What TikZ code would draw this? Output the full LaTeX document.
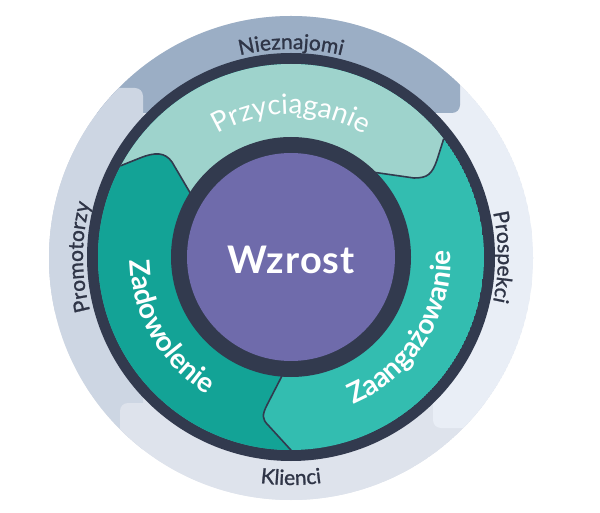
\documentclass[tikz,border=0pt]{standalone}
\usepackage{fontspec}
\setmainfont{Lato}
\newfontfamily\stagefont[LetterSpace=6]{Lato}
\newfontfamily\outerfont[LetterSpace=2,FakeBold=1.2]{Lato}
\newfontfamily\growthfont[LetterSpace=3]{Lato}
\usetikzlibrary{decorations.text}

\definecolor{ringdark}{HTML}{323A4E}
\definecolor{labeldark}{HTML}{2F3547}
\definecolor{topgrey}{HTML}{9BAEC5}
\definecolor{leftgrey}{HTML}{CDD6E3}
\definecolor{rightgrey}{HTML}{E9EEF6}
\definecolor{bottomgrey}{HTML}{DEE3EC}
\definecolor{attractcol}{HTML}{9ED3CC}
\definecolor{engagecol}{HTML}{33BDB0}
\definecolor{delightcol}{HTML}{13A396}
\definecolor{growthcol}{HTML}{6F6BAB}

\begin{document}
\begin{tikzpicture}[x=1pt, y=1pt,
    seam/.style={draw=ringdark, line width=1.6pt},
    outer label/.style={decorate, decoration={text along path, text align=center,
        text color=labeldark, text={|\outerfont\fontsize{21}{25}\selectfont|#1}}},
    stage label/.style={decorate, decoration={text along path, text align=center,
        text color=white, text={|\bfseries\fontsize{28}{32}\selectfont|#1}}},
    attract label/.style={decorate, decoration={text along path, text align=center,
        text color=white, text={|\stagefont\fontsize{28}{32}\selectfont|#1}}},
    growth text/.style={text=white, font=\growthfont\bfseries\fontsize{38}{42}\selectfont}]

\fill[white] (0,0) rectangle (600,512);
\useasboundingbox (0,0) rectangle (600,512);
\coordinate (hub) at (291,255);
\coordinate (rim) at (291,254);

% outer band: four overlapping tiles
\begin{scope}
  \clip (rim) circle[radius=242];
  \fill[bottomgrey] (rim) circle[radius=242];
  \foreach \col/\a/\b in {leftgrey/{-50,-50}/{143,424}, bottomgrey/{120,-50}/{650,109},
      rightgrey/{433,84}/{650,560}, topgrey/{-50,399}/{460,560}, leftgrey/{-50,200}/{143,424}}
    \fill[\col, rounded corners=8pt] (\a) rectangle (\b);
\end{scope}

% stage ring
\fill[ringdark] (hub) circle[radius=204];
\begin{scope}
  \clip (hub) circle[radius=193];
  \fill[engagecol] (hub) circle[radius=193];
  \fill[attractcol] (105,340) -- (140,354) .. controls (155,360) and (165,360) .. (172,350) -- (192,316)
    -- (hub) -- (372,340) -- (414,334) .. controls (428,334) and (432,338) .. (437,352) -- (449,390)
    -- (470,540) -- (100,540) -- cycle;
  \fill[delightcol] (105,340) -- (140,354) .. controls (155,360) and (165,360) .. (172,350) -- (192,316)
    -- (hub) -- (284,140) -- (267,107) .. controls (262,97) and (262,93) .. (268,87) -- (300,52)
    -- (300,20) -- (40,20) -- (40,340) -- cycle;
  \draw[seam] (105,340) -- (140,354) .. controls (155,360) and (165,360) .. (172,350) -- (192,316);
  \draw[seam] (449,390) -- (437,352) .. controls (432,338) and (428,334) .. (414,334) -- (372,340);
  \draw[seam] (284,140) -- (267,107) .. controls (262,97) and (262,93) .. (268,87) -- (300,52);
\end{scope}

% hub
\fill[ringdark] (hub) circle[radius=120];
\fill[growthcol] (hub) circle[radius=104];
\node[growth text] (growth) at (291,252) {Wzrost};

% labels
\path[attract label=Przyciąganie] (hub) ++(135:143) arc[start angle=135, end angle=45, radius=143];
\path[stage label=Zadowolenie] (hub) ++(175:161) arc[start angle=175, end angle=245, radius=161];
\path[stage label=Zaangażowanie] (hub) ++(-72.5:160) arc[start angle=-72.5, end angle=7.5, radius=160];

\path[outer label=Nieznajomi] (hub) ++(125:208) arc[start angle=125, end angle=55, radius=208];
\path[outer label=Prospekci] (hub) ++(20:207) arc[start angle=20, end angle=-20, radius=207];
\path[outer label=Klienci] (hub) ++(240:228) arc[start angle=240, end angle=300, radius=228];
\path[outer label=Promotorzy] (hub) ++(200:208) arc[start angle=200, end angle=160, radius=208];
\end{tikzpicture}
\end{document}
